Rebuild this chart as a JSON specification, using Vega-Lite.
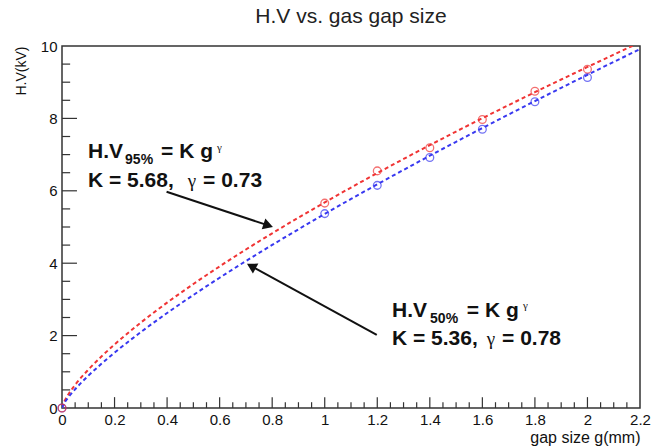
{
  "$schema": "https://vega.github.io/schema/vega-lite/v6.json",
  "width": 578,
  "height": 362,
  "autosize": {"type": "none"},
  "padding": {"left": 62, "top": 46, "right": 11, "bottom": 38},
  "background": "white",
  "config": {
    "view": {"stroke": "#333", "strokeWidth": 1.5},
    "font": "Liberation Sans"
  },
  "title": {
    "text": "H.V vs. gas gap size",
    "fontSize": 21,
    "fontWeight": "normal",
    "font": "Liberation Sans",
    "color": "#222",
    "offset": 12,
    "anchor": "middle"
  },
  "datasets": {
    "fit": [
      {"g": 0, "hv": 0, "series": "95%"},
      {"g": 0.01, "hv": 0.197, "series": "95%"},
      {"g": 0.02, "hv": 0.327, "series": "95%"},
      {"g": 0.05, "hv": 0.638, "series": "95%"},
      {"g": 0.1, "hv": 1.058, "series": "95%"},
      {"g": 0.15, "hv": 1.422, "series": "95%"},
      {"g": 0.2, "hv": 1.755, "series": "95%"},
      {"g": 0.3, "hv": 2.359, "series": "95%"},
      {"g": 0.4, "hv": 2.910, "series": "95%"},
      {"g": 0.5, "hv": 3.425, "series": "95%"},
      {"g": 0.6, "hv": 3.912, "series": "95%"},
      {"g": 0.7, "hv": 4.378, "series": "95%"},
      {"g": 0.8, "hv": 4.826, "series": "95%"},
      {"g": 0.9, "hv": 5.260, "series": "95%"},
      {"g": 1.0, "hv": 5.680, "series": "95%"},
      {"g": 1.1, "hv": 6.090, "series": "95%"},
      {"g": 1.2, "hv": 6.489, "series": "95%"},
      {"g": 1.3, "hv": 6.879, "series": "95%"},
      {"g": 1.4, "hv": 7.261, "series": "95%"},
      {"g": 1.5, "hv": 7.637, "series": "95%"},
      {"g": 1.6, "hv": 8.005, "series": "95%"},
      {"g": 1.7, "hv": 8.367, "series": "95%"},
      {"g": 1.8, "hv": 8.724, "series": "95%"},
      {"g": 1.9, "hv": 9.075, "series": "95%"},
      {"g": 2.0, "hv": 9.421, "series": "95%"},
      {"g": 2.1, "hv": 9.762, "series": "95%"},
      {"g": 2.2, "hv": 10.10, "series": "95%"},
      {"g": 0, "hv": 0, "series": "50%"},
      {"g": 0.01, "hv": 0.148, "series": "50%"},
      {"g": 0.02, "hv": 0.254, "series": "50%"},
      {"g": 0.05, "hv": 0.518, "series": "50%"},
      {"g": 0.1, "hv": 0.890, "series": "50%"},
      {"g": 0.15, "hv": 1.220, "series": "50%"},
      {"g": 0.2, "hv": 1.528, "series": "50%"},
      {"g": 0.3, "hv": 2.096, "series": "50%"},
      {"g": 0.4, "hv": 2.623, "series": "50%"},
      {"g": 0.5, "hv": 3.122, "series": "50%"},
      {"g": 0.6, "hv": 3.599, "series": "50%"},
      {"g": 0.7, "hv": 4.059, "series": "50%"},
      {"g": 0.8, "hv": 4.504, "series": "50%"},
      {"g": 0.9, "hv": 4.937, "series": "50%"},
      {"g": 1.0, "hv": 5.360, "series": "50%"},
      {"g": 1.1, "hv": 5.774, "series": "50%"},
      {"g": 1.2, "hv": 6.179, "series": "50%"},
      {"g": 1.3, "hv": 6.577, "series": "50%"},
      {"g": 1.4, "hv": 6.969, "series": "50%"},
      {"g": 1.5, "hv": 7.354, "series": "50%"},
      {"g": 1.6, "hv": 7.733, "series": "50%"},
      {"g": 1.7, "hv": 8.108, "series": "50%"},
      {"g": 1.8, "hv": 8.478, "series": "50%"},
      {"g": 1.9, "hv": 8.843, "series": "50%"},
      {"g": 2.0, "hv": 9.204, "series": "50%"},
      {"g": 2.1, "hv": 9.561, "series": "50%"},
      {"g": 2.2, "hv": 9.914, "series": "50%"}
    ],
    "pts": [
      {"g": 0, "hv": 0, "series": "50%"},
      {"g": 1.0, "hv": 5.37, "series": "50%"},
      {"g": 1.2, "hv": 6.15, "series": "50%"},
      {"g": 1.4, "hv": 6.92, "series": "50%"},
      {"g": 1.6, "hv": 7.70, "series": "50%"},
      {"g": 1.8, "hv": 8.46, "series": "50%"},
      {"g": 2.0, "hv": 9.13, "series": "50%"},
      {"g": 0, "hv": 0, "series": "95%"},
      {"g": 1.0, "hv": 5.66, "series": "95%"},
      {"g": 1.2, "hv": 6.55, "series": "95%"},
      {"g": 1.4, "hv": 7.19, "series": "95%"},
      {"g": 1.6, "hv": 7.97, "series": "95%"},
      {"g": 1.8, "hv": 8.75, "series": "95%"},
      {"g": 2.0, "hv": 9.36, "series": "95%"}
    ],
    "xmaj": [
      {"g": 0.2}, {"g": 0.4}, {"g": 0.6}, {"g": 0.8}, {"g": 1.0}, {"g": 1.2}, {"g": 1.4}, {"g": 1.6}, {"g": 1.8}, {"g": 2.0}
    ],
    "xmin": [
      {"g": 0.05}, {"g": 0.1}, {"g": 0.15}, {"g": 0.25}, {"g": 0.3}, {"g": 0.35}, {"g": 0.45}, {"g": 0.5}, {"g": 0.55},
      {"g": 0.65}, {"g": 0.7}, {"g": 0.75}, {"g": 0.85}, {"g": 0.9}, {"g": 0.95}, {"g": 1.05}, {"g": 1.1}, {"g": 1.15},
      {"g": 1.25}, {"g": 1.3}, {"g": 1.35}, {"g": 1.45}, {"g": 1.5}, {"g": 1.55}, {"g": 1.65}, {"g": 1.7}, {"g": 1.75},
      {"g": 1.85}, {"g": 1.9}, {"g": 1.95}, {"g": 2.05}, {"g": 2.1}, {"g": 2.15}
    ],
    "ymaj": [
      {"hv": 2}, {"hv": 4}, {"hv": 6}, {"hv": 8}
    ],
    "ymin": [
      {"hv": 0.5}, {"hv": 1}, {"hv": 1.5}, {"hv": 2.5}, {"hv": 3}, {"hv": 3.5}, {"hv": 4.5}, {"hv": 5}, {"hv": 5.5},
      {"hv": 6.5}, {"hv": 7}, {"hv": 7.5}, {"hv": 8.5}, {"hv": 9}, {"hv": 9.5}
    ],
    "big": [
      {"g": 0.099, "hv": 6.906, "text": "H.V"},
      {"g": 0.377, "hv": 6.906, "text": "= K g"},
      {"g": 0.099, "hv": 6.105, "text": "K = 5.68,"},
      {"g": 0.537, "hv": 6.105, "text": "= 0.73"},
      {"g": 1.256, "hv": 2.514, "text": "H.V"},
      {"g": 1.541, "hv": 2.514, "text": "= K g"},
      {"g": 1.256, "hv": 1.740, "text": "K = 5.36,"},
      {"g": 1.675, "hv": 1.740, "text": "= 0.78"}
    ],
    "sub": [
      {"g": 0.240, "hv": 6.740, "text": "95%"},
      {"g": 1.401, "hv": 2.348, "text": "50%"}
    ],
    "sup": [
      {"g": 0.590, "hv": 7.100, "text": "γ"},
      {"g": 1.755, "hv": 2.735, "text": "γ"}
    ],
    "gam": [
      {"g": 0.479, "hv": 6.105, "text": "γ"},
      {"g": 1.617, "hv": 1.740, "text": "γ"}
    ],
    "arrows": [
      {"id": "a", "g": 0.398, "hv": 5.975, "g2": 0.785, "hv2": 5.044},
      {"id": "b", "g": 1.198, "hv": 2.017, "g2": 0.7205, "hv2": 3.917}
    ]
  },
  "layer": [
    {
      "data": {"name": "fit"},
      "mark": {"type": "line", "strokeDash": [4, 3], "strokeWidth": 2, "clip": true, "interpolate": "monotone"},
      "encoding": {
        "x": {
          "field": "g", "type": "quantitative",
          "scale": {"domain": [0, 2.2], "nice": false, "zero": false},
          "axis": {
            "values": [0,0.2,0.4,0.6,0.8,1,1.2,1.4,1.6,1.8,2,2.2],
            "labelExpr": "format(datum.value, '~g')",
            "ticks": false,
            "domain": false,
            "grid": false,
            "labelFlush": false,
            "labelOverlap": false,
            "labelFont": "Liberation Sans",
            "labelFontSize": 15,
            "labelColor": "#111",
            "labelPadding": 4,
            "title": "gap size g(mm)",
            "titleFont": "Liberation Sans",
            "titleFontSize": 16,
            "titleFontWeight": "normal",
            "titleColor": "#111",
            "titleAnchor": "end",
            "titlePadding": 2
          }
        },
        "y": {
          "field": "hv", "type": "quantitative",
          "scale": {"domain": [0, 10], "nice": false},
          "axis": {
            "values": [0,2,4,6,8,10],
            "labelExpr": "format(datum.value, '~g')",
            "ticks": false,
            "domain": false,
            "grid": false,
            "labelFlush": false,
            "labelOverlap": false,
            "labelFont": "Liberation Sans",
            "labelFontSize": 15,
            "labelColor": "#111",
            "labelPadding": 5,
            "title": "H.V(kV)",
            "titleFont": "Liberation Sans",
            "titleFontSize": 14,
            "titleFontWeight": "normal",
            "titleColor": "#111",
            "titleAnchor": "end",
            "titlePadding": 12
          }
        },
        "color": {
          "field": "series", "type": "nominal",
          "scale": {"domain": ["95%", "50%"], "range": ["#f03434", "#3838f0"]},
          "legend": null
        },
        "detail": {"field": "series"}
      }
    },
    {
      "data": {"name": "xmaj"},
      "mark": {"type": "rule", "color": "#333", "strokeWidth": 1.2},
      "encoding": {
        "x": {"field": "g", "type": "quantitative"},
        "y": {"datum": 0},
        "y2": {"datum": 0.30}
      }
    },
    {
      "data": {"name": "xmin"},
      "mark": {"type": "rule", "color": "#333", "strokeWidth": 1.2},
      "encoding": {
        "x": {"field": "g", "type": "quantitative"},
        "y": {"datum": 0},
        "y2": {"datum": 0.16}
      }
    },
    {
      "data": {"name": "ymaj"},
      "mark": {"type": "rule", "color": "#333", "strokeWidth": 1.2},
      "encoding": {
        "y": {"field": "hv", "type": "quantitative"},
        "x": {"datum": 0},
        "x2": {"datum": 0.057}
      }
    },
    {
      "data": {"name": "ymin"},
      "mark": {"type": "rule", "color": "#333", "strokeWidth": 1.2},
      "encoding": {
        "y": {"field": "hv", "type": "quantitative"},
        "x": {"datum": 0},
        "x2": {"datum": 0.031}
      }
    },
    {
      "data": {"name": "pts"},
      "mark": {"type": "point", "shape": "circle", "filled": false, "size": 60, "strokeWidth": 1.3},
      "encoding": {
        "x": {"field": "g", "type": "quantitative"},
        "y": {"field": "hv", "type": "quantitative"},
        "color": {
          "field": "series", "type": "nominal",
          "scale": {"domain": ["95%", "50%"], "range": ["#f03434", "#3838f0"]},
          "legend": null
        }
      }
    },
    {
      "data": {"name": "arrows"},
      "mark": {"type": "rule", "color": "#111", "strokeWidth": 2},
      "encoding": {
        "x": {"field": "g", "type": "quantitative"},
        "y": {"field": "hv", "type": "quantitative"},
        "x2": {"field": "g2"},
        "y2": {"field": "hv2"}
      }
    },
    {
      "data": {"name": "arrows"},
      "transform": [{"filter": "datum.id == 'a'"}],
      "mark": {"type": "point", "shape": "triangle-right", "filled": true, "color": "#111", "size": 130, "angle": 18.4, "opacity": 1},
      "encoding": {
        "x": {"field": "g2", "type": "quantitative"},
        "y": {"field": "hv2", "type": "quantitative"}
      }
    },
    {
      "data": {"name": "arrows"},
      "transform": [{"filter": "datum.id == 'b'"}],
      "mark": {"type": "point", "shape": "triangle-right", "filled": true, "color": "#111", "size": 130, "angle": 208.7, "opacity": 1},
      "encoding": {
        "x": {"field": "g2", "type": "quantitative"},
        "y": {"field": "hv2", "type": "quantitative"}
      }
    },
    {
      "data": {"name": "big"},
      "mark": {"type": "text", "align": "left", "baseline": "alphabetic", "font": "Liberation Sans", "fontSize": 21, "fontWeight": "bold", "color": "#111"},
      "encoding": {
        "x": {"field": "g", "type": "quantitative"},
        "y": {"field": "hv", "type": "quantitative"},
        "text": {"field": "text"}
      }
    },
    {
      "data": {"name": "sub"},
      "mark": {"type": "text", "align": "left", "baseline": "alphabetic", "font": "Liberation Sans", "fontSize": 14, "fontWeight": "bold", "color": "#111"},
      "encoding": {
        "x": {"field": "g", "type": "quantitative"},
        "y": {"field": "hv", "type": "quantitative"},
        "text": {"field": "text"}
      }
    },
    {
      "data": {"name": "sup"},
      "mark": {"type": "text", "align": "left", "baseline": "alphabetic", "font": "Liberation Serif", "fontSize": 11, "color": "#111"},
      "encoding": {
        "x": {"field": "g", "type": "quantitative"},
        "y": {"field": "hv", "type": "quantitative"},
        "text": {"field": "text"}
      }
    },
    {
      "data": {"name": "gam"},
      "mark": {"type": "text", "align": "left", "baseline": "alphabetic", "font": "Liberation Serif", "fontSize": 19, "color": "#111"},
      "encoding": {
        "x": {"field": "g", "type": "quantitative"},
        "y": {"field": "hv", "type": "quantitative"},
        "text": {"field": "text"}
      }
    }
  ]
}
